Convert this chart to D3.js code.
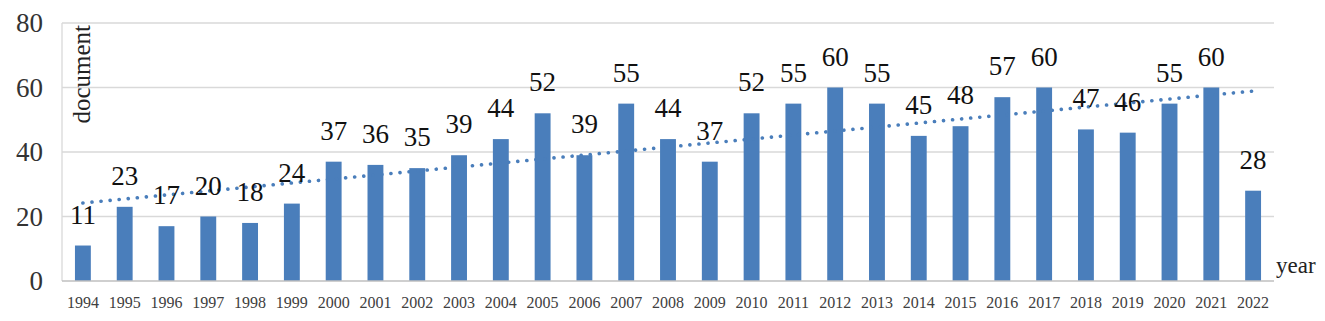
<!DOCTYPE html>
<html>
<head>
<meta charset="utf-8">
<script src="https://cdn.jsdelivr.net/npm/d3@7"></script>
<style>
  body { margin: 0; background: #fff; }
  text { font-family: "Liberation Serif", "DejaVu Serif", serif; }
</style>
</head>
<body>
<div id="chart"></div>
<script>
// bar data: documents per year
const years = ["1994","1995","1996","1997","1998","1999","2000","2001","2002","2003",
  "2004","2005","2006","2007","2008","2009","2010","2011","2012","2013",
  "2014","2015","2016","2017","2018","2019","2020","2021","2022"];
const counts = [11,23,17,20,18,24,37,36,35,39,44,52,39,55,44,37,52,55,60,55,45,48,57,60,47,46,55,60,28];
const yTicks = [0, 20, 40, 60, 80];
// linear trendline endpoints
const trendYears = ["1994", "2022"];
const trendValues = [24.2, 58.9];

const svgWidth = 1325, svgHeight = 321;
const margin = { top: 23, right: 51, bottom: 40, left: 62 };
const width = svgWidth - margin.left - margin.right;
const height = svgHeight - margin.top - margin.bottom;

const svg = d3.select("#chart")
  .append("svg")
  .attr("width", svgWidth)
  .attr("height", svgHeight)
  .append("g")
  .attr("transform", "translate(" + margin.left + "," + margin.top + ")");

const x = d3.scaleBand()
  .domain(years)
  .range([0, width])
  .paddingInner(0.62)
  .paddingOuter(0.31);

const y = d3.scaleLinear()
  .domain([0, 80])
  .range([height, 0]);

// gridlines
svg.selectAll(".grid")
  .data(yTicks.filter(d => d > 0))
  .enter()
  .append("line")
  .attr("x1", 0)
  .attr("x2", width)
  .attr("y1", d => y(d))
  .attr("y2", d => y(d))
  .attr("stroke", "#d9d9d9")
  .attr("stroke-width", 1.3);

// left axis line
svg.append("line")
  .attr("x1", 0).attr("x2", 0)
  .attr("y1", 0).attr("y2", height)
  .attr("stroke", "#d9d9d9")
  .attr("stroke-width", 1.3);

// y tick labels
svg.selectAll(".ytick")
  .data(yTicks)
  .enter()
  .append("text")
  .attr("x", -19)
  .attr("y", d => y(d))
  .attr("dy", "0.35em")
  .attr("text-anchor", "end")
  .style("font-size", "27px")
  .style("fill", "#333")
  .text(d => d);

// bars
svg.selectAll(".bar")
  .data(counts)
  .enter()
  .append("rect")
  .attr("class", "bar")
  .attr("x", (d, i) => x(years[i]))
  .attr("y", d => y(d))
  .attr("width", x.bandwidth())
  .attr("height", d => height - y(d))
  .attr("fill", "#4a7ebb");

// bottom axis line
svg.append("line")
  .attr("x1", 0).attr("x2", width)
  .attr("y1", height).attr("y2", height)
  .attr("stroke", "#bfbfbf")
  .attr("stroke-width", 1.5);

// x tick labels
svg.selectAll(".xtick")
  .data(years)
  .enter()
  .append("text")
  .attr("x", d => x(d) + x.bandwidth() / 2)
  .attr("y", height + 27)
  .attr("text-anchor", "middle")
  .style("font-size", "16px")
  .style("fill", "#404040")
  .text(d => d);

// trendline (dotted)
const trendLine = d3.line()
  .x(d => x(d[0]) + x.bandwidth() / 2)
  .y(d => y(d[1]));

svg.append("path")
  .datum(trendYears.map((t, i) => [t, trendValues[i]]))
  .attr("d", trendLine)
  .attr("fill", "none")
  .attr("stroke", "#4a7ebb")
  .attr("stroke-width", 3.6)
  .attr("stroke-linecap", "round")
  .attr("stroke-dasharray", "0.1 9");

// data labels
svg.selectAll(".label")
  .data(counts)
  .enter()
  .append("text")
  .attr("x", (d, i) => x(years[i]) + x.bandwidth() / 2)
  .attr("y", d => y(d) - 22)
  .attr("text-anchor", "middle")
  .style("font-size", "27px")
  .style("fill", "#111")
  .text(d => d);

// axis titles
svg.append("text")
  .attr("transform", "translate(28,2) rotate(-90)")
  .attr("text-anchor", "end")
  .style("font-size", "25px")
  .style("fill", "#222")
  .text("document");

svg.append("text")
  .attr("x", width + 2)
  .attr("y", height - 8)
  .style("font-size", "23px")
  .style("fill", "#222")
  .text("year");
</script>
</body>
</html>
